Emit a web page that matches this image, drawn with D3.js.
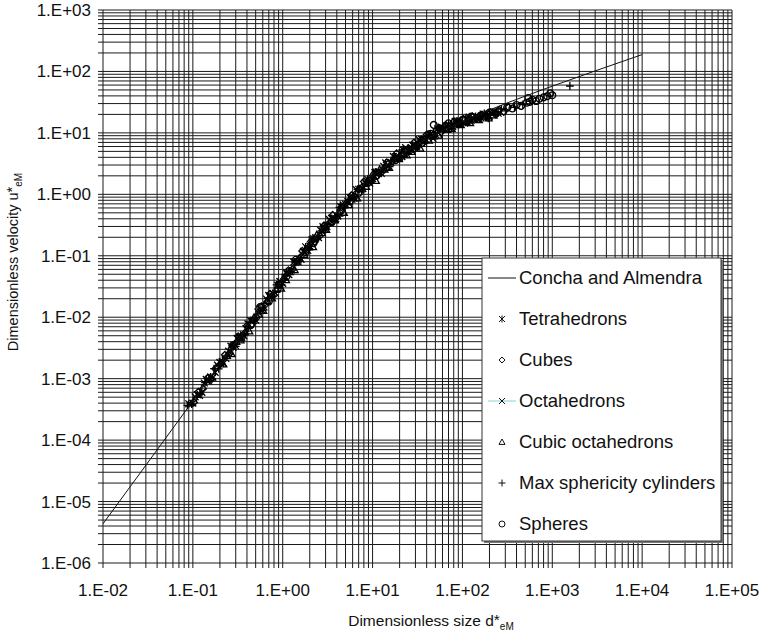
<!DOCTYPE html>
<html>
<head>
<meta charset="utf-8">
<script src="https://cdn.jsdelivr.net/npm/d3@7"></script>
<style>
  body { margin: 0; background: #fff; }
  svg { display: block; }
  text { font-family: "Liberation Sans", Arial, Helvetica, sans-serif; fill: #111; }
</style>
</head>
<body>
<svg id="chart" width="763" height="633"></svg>
<script>
// ---- axis ticks ----
const xTickValues = [1e-2, 1e-1, 1e0, 1e1, 1e2, 1e3, 1e4, 1e5];
const xTickLabels = ["1.E-02", "1.E-01", "1.E+00", "1.E+01", "1.E+02", "1.E+03", "1.E+04", "1.E+05"];
const yTickValues = [1e-6, 1e-5, 1e-4, 1e-3, 1e-2, 1e-1, 1e0, 1e1, 1e2, 1e3];
const yTickLabels = ["1.E-06", "1.E-05", "1.E-04", "1.E-03", "1.E-02", "1.E-01", "1.E+00", "1.E+01", "1.E+02", "1.E+03"];

// ---- Concha and Almendra correlation [d*, u*] ----
const conchaAlmendra = [
  [0.01, 4.35e-6], [0.03, 3.9e-5], [0.1, 4.34e-4], [0.3, 3.89e-3], [1, 0.0416],
  [2, 0.155], [3, 0.319], [5, 0.74], [10, 1.96], [20, 4.27], [30, 6.22],
  [50, 9.43], [100, 15.4], [200, 23.6], [300, 29.9], [500, 39.7],
  [1000, 57.6], [3000, 102], [10000, 188]
];

// ---- measured particles [d*, u*] ----
const tetrahedrons = [
  [0.09,3.9e-4],[0.1,4.0e-4],[0.112,5.5e-4],[0.126,6.0e-4],[0.141,9.7e-4],[0.158,1.07e-3],[0.177,1.27e-3],
  [0.2,1.84e-3],[0.22,1.78e-3],[0.25,2.81e-3],[0.28,3.23e-3],[0.31,4.54e-3],[0.35,4.64e-3],[0.39,6.5e-3],
  [0.44,8.8e-3],[0.5,9.0e-3],[0.56,1.37e-2],[0.62,1.47e-2],[0.7,2.26e-2],[0.78,2.43e-2],[0.88,3.32e-2],
  [1.0,3.56e-2],[1.1,5.33e-2],[1.25,5.9e-2],[1.4,7.8e-2],[1.6,8.7e-2],[1.8,0.14],[2.0,0.144],
  [2.2,0.189],[2.5,0.198],[2.8,0.297],[3.1,0.30],[3.5,0.406],[3.9,0.40],[4.4,0.633],[5.0,0.69],
  [5.6,0.896],[6.2,0.864],[7.0,1.21],[7.8,1.24],[8.8,1.76],[10,1.8],[11,2.3],[12.5,2.2],[14,3.25],
  [16,3.3],[18,4.06],[20,3.87],[22,5.23],[25,5.09],[28,6.3],[31,5.9],[35,7.9],[39,7.76],[44,9.5],
  [50,9.5],[56,12.1],[62,11.5],[70,13.7],[78,12.8],[88,15.5],[100,14.7],[112,16.8],[125,16],
  [140,18.5],[160,17.6],[180,19.9],[200,18.8],[225,21.8],[250,20.9]
];
const cubes = [
  [0.103,4.1e-4],[0.115,6.1e-4],[0.13,6.85e-4],[0.145,1.02e-3],[0.163,9.9e-4],[0.182,1.5e-3],[0.206,1.78e-3],
  [0.227,2.44e-3],[0.258,2.56e-3],[0.288,3.57e-3],[0.32,4.9e-3],[0.36,5.08e-3],[0.4,7.26e-3],[0.45,7.55e-3],
  [0.515,9.9e-3],[0.577,1.5e-2],[0.64,1.59e-2],[0.72,2.4e-2],[0.8,2.3e-2],[0.9,3.45e-2],[1.03,4.2e-2],
  [1.13,5.65e-2],[1.29,5.98e-2],[1.44,8.2e-2],[1.65,0.12],[1.85,0.123],[2.06,0.17],[2.27,0.168],
  [2.58,0.21],[2.88,0.312],[3.2,0.319],[3.6,0.463],[4.0,0.42],[4.5,0.617],[5.15,0.728],[5.8,0.967],
  [6.4,0.917],[7.2,1.23],[8.0,1.62],[9.1,1.56],[10.3,2.13],[11.3,2.0],[12.9,2.36],[14.4,3.32],
  [16.5,3.39],[18.5,4.63],[20.6,3.93],[22.7,5.29],[25.8,5.46],[28.8,6.93],[32,6.1],[36,7.56],[40,9.4],
  [45,8.6],[51.5,11.1],[58,10.2],[64,13.2],[72,12.6],[80,15.3],[91,13.7],[103,16.8],[115,15.4],
  [129,18.6],[144,17.1],[165,19.8],[185,18.1],[206,21.6],[232,19.9],[258,23.8],[288,22],[325,26.2]
];
const octahedrons = [
  [0.106,5.06e-4],[0.119,5.34e-4],[0.134,8.5e-4],[0.15,9.1e-4],[0.167,1.05e-3],[0.188,1.66e-3],[0.212,1.9e-3],
  [0.233,2.13e-3],[0.265,3.38e-3],[0.297,3.47e-3],[0.33,4.8e-3],[0.37,5.0e-3],[0.41,7.8e-3],[0.47,8.9e-3],
  [0.53,1.22e-2],[0.59,1.31e-2],[0.66,1.98e-2],[0.74,2.15e-2],[0.83,2.46e-2],[0.93,3.82e-2],[1.06,4.48e-2],
  [1.17,4.95e-2],[1.33,7.9e-2],[1.48,8.0e-2],[1.7,0.118],[1.9,0.122],[2.12,0.183],[2.33,0.197],
  [2.65,0.259],[2.97,0.272],[3.3,0.39],[3.7,0.408],[4.1,0.441],[4.7,0.671],[5.3,0.763],[5.9,0.832],
  [6.6,1.19],[7.4,1.18],[8.3,1.56],[9.3,1.52],[10.6,2.26],[11.7,2.32],[13.3,2.86],[14.8,2.85],
  [17,4.15],[19,4.08],[21.2,4.12],[23.3,5.75],[26.5,5.67],[29.7,5.9],[33,7.78],[37,7.1],[41,8.9],
  [47,8.14],[53,11.6],[59,11.5],[66,13],[74,12.1],[83,15.4],[93,14.5],[106,14.4],[119,18.1],
  [133,17.2],[148,16.8],[170,20.3],[190,19],[212,21.3]
];
const cubicOctahedrons = [
  [0.218,1.72e-3],[0.24,2.36e-3],[0.27,2.52e-3],[0.305,4.0e-3],[0.34,4.24e-3],[0.38,5.7e-3],[0.425,5.94e-3],
  [0.48,1.0e-2],[0.545,1.11e-2],[0.61,1.28e-2],[0.675,1.86e-2],[0.76,2.05e-2],[0.85,2.8e-2],[0.96,2.95e-2],
  [1.09,4.05e-2],[1.2,5.48e-2],[1.36,5.9e-2],[1.53,9.2e-2],[1.74,0.104],[1.96,0.138],[2.18,0.139],
  [2.4,0.222],[2.73,0.236],[3.05,0.267],[3.4,0.358],[3.8,0.379],[4.25,0.489],[4.8,0.506],[5.45,0.672],
  [6.1,0.9],[6.75,0.868],[7.6,1.33],[8.5,1.34],[9.6,1.68],[10.9,1.67],[12,2.55],[13.6,2.54],[15.3,2.72],
  [17.4,3.8],[19.6,3.79],[21.8,4.57],[24,4.34],[27.3,4.96],[30.5,6.34],[34,5.6],[38,7.93],[42.5,7.53],
  [48,8.87],[54.5,9.1],[61,11.8],[67.5,11.3],[76,11.7],[85,14.3],[96,13.5],[109,15.3],[122,14.5],
  [136,17.3],[153,16.3],[174,18.5],[196,17.4],[218,19.5]
];
const cylinders = [
  [0.087,3.68e-4],[0.097,3.84e-4],[0.109,4.98e-4],[0.122,5.56e-4],[0.137,8.63e-4],[0.153,9.35e-4],[0.172,1.46e-3],
  [0.194,1.44e-3],[0.213,2.02e-3],[0.243,2.42e-3],[0.272,3.41e-3],[0.3,3.35e-3],[0.34,5.13e-3],[0.378,5.47e-3],
  [0.427,8.42e-3],[0.485,9.29e-3],[0.543,1.22e-2],[0.6,1.29e-2],[0.68,2.03e-2],[0.757,2.19e-2],[0.854,3.35e-2],
  [0.97,3.38e-2],[1.067,4.69e-2],[1.21,5.65e-2],[1.36,7.86e-2],[1.55,8.19e-2],[1.75,0.125],[1.94,0.128],
  [2.13,0.187],[2.43,0.196],[2.72,0.254],[3.0,0.266],[3.4,0.402],[3.78,0.409],[4.27,0.615],[4.85,0.602],
  [5.43,0.824],[6.0,0.889],[6.8,1.21],[7.57,1.13],[8.54,1.62],[9.7,1.65],[10.7,2.3],[12.1,2.27],[13.6,2.77],
  [15.5,2.82],[17.5,4.02],[19.4,3.82],[21.3,5.27],[24.3,4.58],[27.2,5.99],[30,6.12],[34,7.68],[37.8,6.83],
  [42.7,9.35],[48.5,9.1],[54.3,12.3],[60,11.2],[68,12.7],[75.7,11.8],[85.4,15.5],[97,14.1],[109,17.5],
  [121,15],[136,17.9],[155,17.6],[175,20.8],[194,17.2],[218,21.8],[243,19.6],[272,24.3],[305,22.8],
  [380,26],[470,29],[600,33],[1570,58]
];
const spheres = [
  [0.28,3.5e-3],[0.35,4.74e-3],[0.44,7.4e-3],[0.56,1.46e-2],[0.7,1.8e-2],[0.88,2.9e-2],[1.1,4.6e-2],
  [1.4,8.6e-2],[1.8,0.115],[2.2,0.16],[2.8,0.27],[3.5,0.351],[4.4,0.532],[5.6,0.77],[7.0,1.06],
  [8.8,1.52],[11,2.0],[14,2.73],[18,3.6],[22,4.5],[28,5.5],[35,6.84],[44,9.7],[48,13.5],[56,11.8],
  [70,14.3],[88,13.9],[100,16.3],[125,18.4],[160,19.2],[200,21.4],[250,22.4],[315,26],[360,25],
  [400,28.5],[450,27.5],[520,31],[540,37],[560,32],[600,34.5],[660,33],[720,36],[800,38],[880,39.5],
  [950,44],[1000,41]
];

const seriesNames = ["Tetrahedrons", "Cubes", "Octahedrons", "Cubic octahedrons", "Max sphericity cylinders", "Spheres"];
const seriesData = [tetrahedrons, cubes, octahedrons, cubicOctahedrons, cylinders, spheres];
const seriesShapes = ["asterisk", "diamond", "cross", "triangle", "plus", "circle"];

// ---- layout ----
const svg = d3.select("#chart");
const plot = { left: 103, right: 732, top: 10, bottom: 563 };
const tickLen = 5;

const x = d3.scaleLog().domain([1e-2, 1e5]).range([plot.left, plot.right]);
const y = d3.scaleLog().domain([1e-6, 1e3]).range([plot.bottom, plot.top]);

// grid: every 1..9 multiple in each decade, extended outwards as tick marks
const grid = svg.append("g").attr("stroke", "#1a1a1a").attr("stroke-width", 1);
grid.selectAll("line.v").data(x.ticks()).join("line")
  .attr("class", "v")
  .attr("x1", d => x(d)).attr("x2", d => x(d))
  .attr("y1", plot.top).attr("y2", plot.bottom + tickLen);
grid.selectAll("line.h").data(y.ticks()).join("line")
  .attr("class", "h")
  .attr("x1", plot.left - tickLen).attr("x2", plot.right)
  .attr("y1", d => y(d)).attr("y2", d => y(d));

// tick labels
svg.append("g").selectAll("text").data(xTickValues).join("text")
  .attr("x", d => x(d)).attr("y", plot.bottom + 33)
  .attr("text-anchor", "middle").attr("font-size", 17)
  .text((d, i) => xTickLabels[i]);
svg.append("g").selectAll("text").data(yTickValues).join("text")
  .attr("x", plot.left - 12).attr("y", d => y(d) + 6)
  .attr("text-anchor", "end").attr("font-size", 17)
  .text((d, i) => yTickLabels[i]);

// axis titles
const xt = svg.append("text").attr("x", 431).attr("y", 626)
  .attr("text-anchor", "middle").attr("font-size", 15.5);
xt.append("tspan").text("Dimensionless size d");
xt.append("tspan").attr("dy", -1).text("*");
xt.append("tspan").attr("dy", 5).attr("font-size", 10).text("eM");

const yt = svg.append("text")
  .attr("transform", "translate(18,262) rotate(-90)")
  .attr("text-anchor", "middle").attr("font-size", 14.5);
yt.append("tspan").text("Dimensionless velocity u");
yt.append("tspan").attr("dy", -1).text("*");
yt.append("tspan").attr("dy", 5).attr("font-size", 10).text("eM");

// marker shapes
function markerPath(shape, s) {
  switch (shape) {
    case "asterisk": return `M${-s},${-s}L${s},${s}M${-s},${s}L${s},${-s}M0,${-s - 0.5}L0,${s + 0.5}`;
    case "diamond": return `M0,${-s}L${s},0L0,${s}L${-s},0Z`;
    case "cross": return `M${-s},${-s}L${s},${s}M${-s},${s}L${s},${-s}`;
    case "triangle": return `M0,${-s}L${s},${s * 0.8}L${-s},${s * 0.8}Z`;
    case "plus": return `M${-s - 0.5},0L${s + 0.5},0M0,${-s - 0.5}L0,${s + 0.5}`;
    case "circle": return `M${s},0A${s},${s} 0 1,1 ${-s},0A${s},${s} 0 1,1 ${s},0Z`;
  }
}

// data markers
const marks = svg.append("g").attr("fill", "none").attr("stroke", "#000").attr("stroke-width", 1.3);
seriesData.forEach((data, k) => {
  marks.append("g").selectAll("path").data(data).join("path")
    .attr("transform", d => `translate(${x(d[0])},${y(d[1])})`)
    .attr("d", markerPath(seriesShapes[k], 3.4));
});

// correlation line
const line = d3.line().x(d => x(d[0])).y(d => y(d[1])).curve(d3.curveMonotoneX);
svg.append("path").datum(conchaAlmendra)
  .attr("fill", "none").attr("stroke", "#111").attr("stroke-width", 1)
  .attr("d", line);

// legend
const lg = { x: 482, y: 258, w: 239, h: 283 };
svg.append("rect").attr("x", lg.x + 2).attr("y", lg.y + 2).attr("width", lg.w).attr("height", lg.h)
  .attr("fill", "#777");
svg.append("rect").attr("x", lg.x).attr("y", lg.y).attr("width", lg.w).attr("height", lg.h)
  .attr("fill", "#fff").attr("stroke", "#333").attr("stroke-width", 1);

const legendItems = ["Concha and Almendra"].concat(seriesNames);
const legend = svg.append("g");
legendItems.forEach((name, i) => {
  const cy = lg.y + 20 + i * 41;
  if (i === 0) {
    legend.append("line").attr("x1", lg.x + 6).attr("x2", lg.x + 34)
      .attr("y1", cy).attr("y2", cy).attr("stroke", "#111");
  } else {
    if (seriesShapes[i - 1] === "cross") {
      legend.append("line").attr("x1", lg.x + 6).attr("x2", lg.x + 34)
        .attr("y1", cy).attr("y2", cy).attr("stroke", "#7fd8d4").attr("stroke-width", 1);
    }
    legend.append("path").attr("transform", `translate(${lg.x + 20},${cy})`)
      .attr("d", markerPath(seriesShapes[i - 1], 3))
      .attr("fill", "none").attr("stroke", "#111").attr("stroke-width", 1);
  }
  legend.append("text").attr("x", lg.x + 37).attr("y", cy + 6)
    .attr("font-size", 18.5).text(name);
});
</script>
</body>
</html>
